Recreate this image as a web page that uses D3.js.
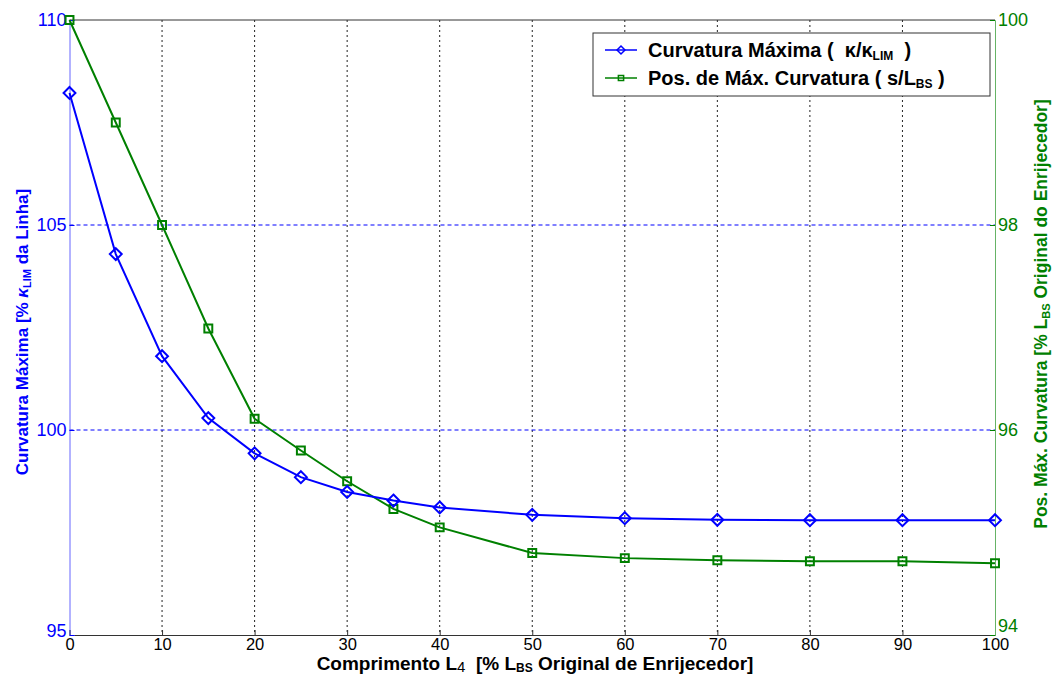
<!DOCTYPE html>
<html>
<head>
<meta charset="utf-8">
<script src="https://cdn.jsdelivr.net/npm/d3@7"></script>
<style>
  html, body { margin: 0; padding: 0; background: #fff; }
  svg { display: block; font-family: "Liberation Sans", Arial, sans-serif; }
</style>
</head>
<body>
<script>
// Comprimento L4 (% de L_BS original)
const comprimento = [0, 5, 10, 15, 20, 25, 30, 35, 40, 50, 60, 70, 80, 90, 100];
// Curvatura máxima (% de kappa_LIM da linha) - eixo esquerdo
const curvaturaMax = [108.22, 104.29, 101.8, 100.29, 99.43, 98.85, 98.49, 98.28, 98.11, 97.93, 97.85, 97.81, 97.8, 97.8, 97.8];
// Posição da máxima curvatura (% de L_BS original) - eixo direito
const posMaxCurv = [100, 99.0, 98.0, 96.99, 96.11, 95.8, 95.5, 95.23, 95.05, 94.8, 94.75, 94.73, 94.72, 94.72, 94.7];

const xTicks = [0, 10, 20, 30, 40, 50, 60, 70, 80, 90, 100];
const yLeftTicks = [95, 100, 105, 110];
const yRightTicks = [94, 96, 98, 100];

const W = 1053, H = 677;
// plot box (window.top is reserved, so use a margin object)
const box = { left: 69.5, right: 995, top: 20, bottom: 635 };
const BLUE = "#0000ff", GREEN = "#008000";
const FONT = "Liberation Sans, Arial, sans-serif";

const svg = d3.select("body").append("svg")
  .attr("width", W).attr("height", H);

const x = d3.scaleLinear().domain([0, 100]).range([box.left, box.right]);
const yL = d3.scaleLinear().domain([95, 110]).range([box.bottom, box.top]);
const yR = d3.scaleLinear().domain([94, 100]).range([box.bottom, box.top]);

// grid
svg.append("g").selectAll("line")
  .data(xTicks.slice(1, -1))
  .join("line")
  .attr("x1", d => x(d)).attr("x2", d => x(d))
  .attr("y1", box.top).attr("y2", box.bottom)
  .attr("stroke", "#222").attr("stroke-width", 1)
  .attr("stroke-dasharray", "2,3");

svg.append("g").selectAll("line")
  .data(yLeftTicks.slice(1, -1))
  .join("line")
  .attr("x1", box.left).attr("x2", box.right)
  .attr("y1", d => yL(d)).attr("y2", d => yL(d))
  .attr("stroke", BLUE).attr("stroke-width", 1)
  .attr("stroke-dasharray", "4,3");

// top edge of the frame
svg.append("line").attr("x1", box.left).attr("x2", box.right).attr("y1", box.top).attr("y2", box.top)
  .attr("stroke", "#333");

// axes
const gx = svg.append("g").attr("transform", `translate(0,${box.bottom})`)
  .call(d3.axisBottom(x).tickValues(xTicks).tickSize(-5).tickPadding(3));
gx.select(".domain").attr("stroke", "#333");
gx.selectAll(".tick line").attr("stroke", "#333");
gx.selectAll("text").attr("font-size", 16.5).attr("fill", "#000").attr("font-family", FONT);

const gyl = svg.append("g").attr("transform", `translate(${box.left},0)`)
  .call(d3.axisLeft(yL).tickValues(yLeftTicks).tickFormat(d3.format("d")).tickSize(-5).tickPadding(3));
gyl.select(".domain").attr("stroke", "#6666ff");
gyl.selectAll(".tick line").attr("stroke", BLUE);
gyl.selectAll("text").attr("font-size", 18).attr("fill", BLUE).attr("font-family", FONT);
gyl.selectAll(".tick").filter(d => d === 95).select("text").attr("dy", "0.1em");

const gyr = svg.append("g").attr("transform", `translate(${box.right},0)`)
  .call(d3.axisRight(yR).tickValues(yRightTicks).tickFormat(d3.format("d")).tickSize(-5).tickPadding(3));
gyr.select(".domain").attr("stroke", "#66b366");
gyr.selectAll(".tick line").attr("stroke", GREEN);
gyr.selectAll("text").attr("font-size", 18).attr("fill", GREEN).attr("font-family", FONT);
gyr.selectAll(".tick").filter(d => d === 94).select("text").attr("dy", "-0.2em");

// series
const rows = comprimento.map((c, i) => ({ c, k: curvaturaMax[i], s: posMaxCurv[i] }));

svg.append("path").datum(rows)
  .attr("fill", "none").attr("stroke", GREEN).attr("stroke-width", 2)
  .attr("d", d3.line().x(d => x(d.c)).y(d => yR(d.s)));

svg.append("path").datum(rows)
  .attr("fill", "none").attr("stroke", BLUE).attr("stroke-width", 2)
  .attr("d", d3.line().x(d => x(d.c)).y(d => yL(d.k)));

const diamond = d3.symbol().type(d3.symbolDiamond2).size(90);
const square = d3.symbol().type(d3.symbolSquare2).size(80);

svg.append("g").selectAll("path")
  .data(rows).join("path")
  .attr("transform", d => `translate(${x(d.c)},${yR(d.s)})`)
  .attr("d", square)
  .attr("fill", "none").attr("stroke", GREEN).attr("stroke-width", 2);

svg.append("g").selectAll("path")
  .data(rows).join("path")
  .attr("transform", d => `translate(${x(d.c)},${yL(d.k)})`)
  .attr("d", diamond)
  .attr("fill", "none").attr("stroke", BLUE).attr("stroke-width", 2);

// axis titles
const xt = svg.append("text")
  .attr("x", 535).attr("y", 670)
  .attr("text-anchor", "middle")
  .attr("font-size", 19).attr("font-weight", "bold").attr("fill", "#000");
xt.append("tspan").text("Comprimento L");
xt.append("tspan").attr("font-size", 15).attr("font-weight", "normal").attr("dy", 2).text("4");
xt.append("tspan").attr("dy", -2).text("\u00a0\u00a0[% L");
xt.append("tspan").attr("font-size", 12).attr("dy", 2).text("BS");
xt.append("tspan").attr("dy", -2).text(" Original de Enrijecedor]");

const ylt = svg.append("text")
  .attr("transform", "translate(28,332) rotate(-90)")
  .attr("text-anchor", "middle")
  .attr("font-size", 17).attr("font-weight", "bold").attr("fill", BLUE);
ylt.append("tspan").text("Curvatura Máxima [% ");
ylt.append("tspan").attr("font-style", "italic").text("κ");
ylt.append("tspan").attr("font-size", 11).attr("dy", 3).text("LIM");
ylt.append("tspan").attr("dy", -3).text(" da Linha]");

const yrt = svg.append("text")
  .attr("transform", "translate(1047,314) rotate(-90)")
  .attr("text-anchor", "middle")
  .attr("font-size", 17.5).attr("font-weight", "bold").attr("fill", GREEN);
yrt.append("tspan").text("Pos. Máx. Curvatura [% L");
yrt.append("tspan").attr("font-size", 11).attr("dy", 3).text("BS");
yrt.append("tspan").attr("dy", -3).text(" Original do Enrijecedor]");

// legend
const lg = svg.append("g").attr("transform", "translate(593,33)");
lg.append("rect").attr("width", 397).attr("height", 63)
  .attr("fill", "#fff").attr("stroke", "#333").attr("stroke-width", 1);

const entries = [
  { color: BLUE, sym: d3.symbol().type(d3.symbolDiamond2).size(40), parts: [["Curvatura Máxima (\u00a0 κ/κ", 0], ["LIM", 1], ["\u00a0 )", 0]] },
  { color: GREEN, sym: d3.symbol().type(d3.symbolSquare2).size(35), parts: [["Pos. de Máx. Curvatura ( s/L", 0], ["BS", 1], [" )", 0]] }
];
entries.forEach((e, i) => {
  const cy = 17 + i * 28;
  lg.append("line").attr("x1", 12).attr("x2", 44).attr("y1", cy).attr("y2", cy)
    .attr("stroke", e.color).attr("stroke-width", 1.5);
  lg.append("path").attr("transform", `translate(28,${cy})`)
    .attr("d", e.sym).attr("fill", "none").attr("stroke", e.color).attr("stroke-width", 1.5);
  const t = lg.append("text").attr("x", 55).attr("y", cy + 7)
    .attr("font-size", 20).attr("font-weight", "bold").attr("fill", "#000");
  let sub = 0;
  e.parts.forEach(([s, isSub]) => {
    const ts = t.append("tspan").text(s);
    if (isSub && !sub) { ts.attr("font-size", 12).attr("dy", 3); sub = 1; }
    else if (!isSub && sub) { ts.attr("dy", -3); sub = 0; }
  });
});
</script>
</body>
</html>
